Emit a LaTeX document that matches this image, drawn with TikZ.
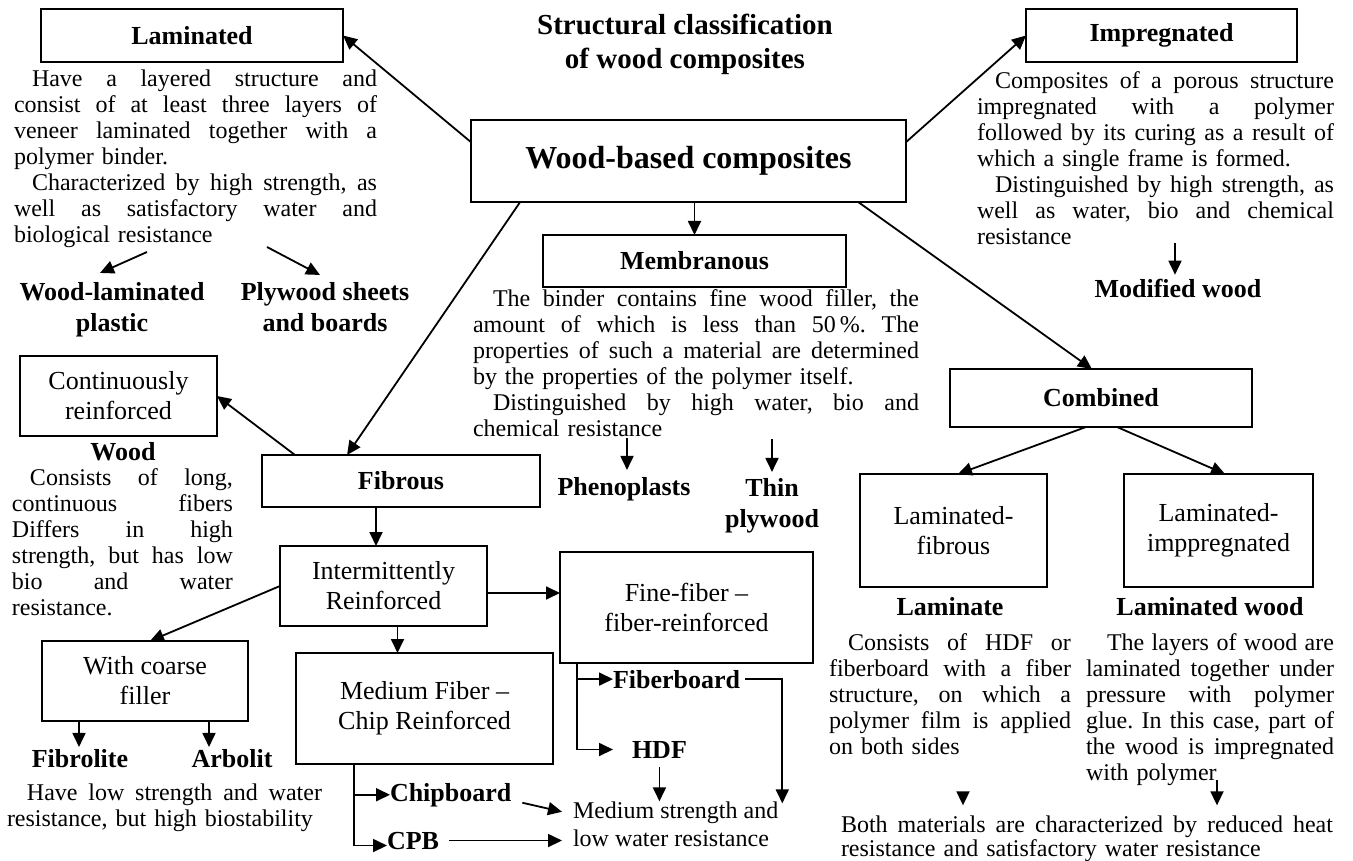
\documentclass[tikz,border=0pt]{standalone}
\usepackage{fontspec}
\setmainfont{Liberation Serif}
\usetikzlibrary{arrows.meta,calc}
\frenchspacing
\newcommand\jl[1]{\makebox[\hsize][s]{\spaceskip=0pt\xspaceskip=0pt #1}}
\begin{document}
\begin{tikzpicture}[x=1pt,y=-1pt,
  box/.style={draw, line width=1.8pt, inner sep=0pt, outer sep=0pt, align=center},
  bx/.style={font=\bfseries\fontsize{26}{30}\selectfont},
  rx/.style={font=\fontsize{26}{30}\selectfont},
  lbl/.style={inner sep=0pt, outer sep=0pt, align=center, font=\bfseries\fontsize{26}{31}\selectfont},
  txt/.style={inner sep=0pt, outer sep=0pt, align=left, anchor=base west, font=\fontsize{24}{26}\selectfont},
  arr/.style={line width=1.8pt, -{Triangle[length=14pt,width=13pt]}}
]
\useasboundingbox (0,0) rectangle (1353,861);

% title (base = last line)
\node[lbl, anchor=base, font=\bfseries\fontsize{29}{34}\selectfont] (title) at (685,69) {Structural classification\\of wood composites};

% boxes
\node[box, bx, minimum width=302pt, minimum height=53pt] (lam) at (192,35.5) {Laminated};
\node[box, bx, minimum width=271pt, minimum height=53pt] (imp) at (1161.5,35.5) {Impregnated};
\node[box, font=\bfseries\fontsize{32}{36}\selectfont, minimum width=435pt, minimum height=82pt] (wbc) at (688.5,161) {Wood-based composites};
\node[box, bx, minimum width=303pt, minimum height=52pt] (mem) at (694.5,261) {Membranous};
\node[box, bx, minimum width=302pt, minimum height=58pt] (comb) at (1101,398) {Combined};
\node[box, rx, minimum width=187pt, minimum height=113pt] (lf) at (953.5,530.5) {Laminated-\\fibrous};
\node[box, rx, minimum width=189pt, minimum height=113pt] (li) at (1218.5,530.5) {Laminated-\\imppregnated};
\node[box, bx, minimum width=278pt, minimum height=52pt] (fib) at (401,481) {Fibrous};
\node[box, rx, minimum width=197pt, minimum height=80pt] (cont) at (118.5,396) {Continuously\\reinforced};
\node[box, rx, minimum width=207pt, minimum height=80pt] (inter) at (383.5,586) {Intermittently\\Reinforced};
\node[box, rx, minimum width=206pt, minimum height=80pt] (coarse) at (145,681) {With coarse\\filler};
\node[box, rx, minimum width=257pt, minimum height=111pt] (med) at (424.5,708.5) {Medium Fiber –\\Chip Reinforced};
\node[box, rx, minimum width=253pt, minimum height=111pt] (fine) at (686.5,607.5) {Fine-fiber –\\fiber-reinforced};

% text blocks (base = first line)
\node[txt, text width=363pt] (lamT) at (14,87) {\jl{\hspace*{18pt}Have a layered structure and}\\
\jl{consist of at least three layers of}\\
\jl{veneer laminated together with a}\\
polymer binder.\\
\jl{\hspace*{18pt}Characterized by high strength, as}\\
\jl{well as satisfactory water and}\\
biological resistance};

\node[txt, text width=357pt] (impT) at (977,89) {\jl{\hspace*{18pt}Composites of a porous structure}\\
\jl{impregnated with a polymer}\\
\jl{followed by its curing as a result of}\\
which a single frame is formed.\\
\jl{\hspace*{18pt}Distinguished by high strength, as}\\
\jl{well as water, bio and chemical}\\
resistance};

\node[txt, text width=446pt] (memT) at (473,307) {\jl{\hspace*{20pt}The binder contains fine wood filler, the}\\
\jl{amount of which is less than 50\,\%. The}\\
\jl{properties of such a material are determined}\\
by the properties of the polymer itself.\\
\jl{\hspace*{20pt}Distinguished by high water, bio and}\\
chemical resistance};

\node[txt, text width=221pt] (woodT) at (12,485) {\jl{\hspace*{18pt}Consists of long,}\\
\jl{continuous fibers}\\
\jl{Differs in high}\\
\jl{strength, but has low}\\
\jl{bio and water}\\
resistance.};

\node[txt, text width=315pt] (lowT) at (7,800) {\jl{\hspace*{20pt}Have low strength and water}\\
resistance, but high biostability};

\node[txt, text width=242pt] (lmtT) at (829,650) {\jl{\hspace*{19pt}Consists of HDF or}\\
\jl{fiberboard with a fiber}\\
\jl{structure, on which a}\\
\jl{polymer film is applied}\\
on both sides};

\node[txt, text width=248pt] (lwdT) at (1086,650) {\jl{\hspace*{21pt}The layers of wood are}\\
\jl{laminated together under}\\
\jl{pressure with polymer}\\
\jl{glue. In this case, part of}\\
\jl{the wood is impregnated}\\
with polymer};

\node[txt, text width=492pt, font=\fontsize{24}{24}\selectfont] (both) at (841,832) {\jl{Both materials are characterized by reduced heat}\\
resistance and satisfactory water resistance};

% (base = last line)
\node[txt, font=\fontsize{24}{28}\selectfont] (ms) at (573,846) {Medium strength and\\low water resistance};

% bold labels (base = last line)
\node[lbl, anchor=base] (wlp) at (112,331) {Wood-laminated\\plastic};
\node[lbl, anchor=base] (pw) at (325,331) {Plywood sheets\\and boards};
\node[lbl, anchor=base] (mw) at (1178,298) {Modified wood};
\node[lbl, anchor=base] (wd) at (123,460) {Wood};
\node[lbl, anchor=base] (ph) at (624,495) {Phenoplasts};
\node[lbl, anchor=base] (thin) at (772,527) {Thin\\plywood};
\node[lbl, anchor=base] (lmt) at (950,615) {Laminate};
\node[lbl, anchor=base] (lwd) at (1210,615) {Laminated wood};
\node[lbl, anchor=base] (fl) at (80,767) {Fibrolite};
\node[lbl, anchor=base] (ab) at (232,767) {Arbolit};
\node[lbl, anchor=base west] (chip) at (390,801) {Chipboard};
\node[lbl, anchor=base west] (cpb) at (387,849) {CPB};
\node[lbl, anchor=base west] (fbd) at (613,688) {Fiberboard};
\node[lbl, anchor=base west] (hdf) at (632,758) {HDF};

% connectors from the central box
\draw[arr] ($(wbc.north west)!0.27!(wbc.south west)$) -- (lam.east);
\draw[arr] ($(wbc.north east)!0.27!(wbc.south east)$) -- (imp.west);
\draw[arr] (wbc.south -| mem.north) -- (mem.north);
\draw[arr] ($(wbc.south west)!0.113!(wbc.south east)$) -- ($(fib.north west)!0.306!(fib.north east)$);
\draw[arr] ($(wbc.south west)!0.89!(wbc.south east)$) -- ($(comb.north west)!0.47!(comb.north east)$);

% laminated branch
\coordinate (s1) at (147,252);
\draw[arr] (s1) -- ([xshift=-12pt,yshift=9pt]wlp.north);
\coordinate (s2) at (267,247);
\draw[arr] (s2) -- ([xshift=-5pt,yshift=7pt]pw.north);

% impregnated branch
\coordinate (s3) at (1175,243);
\draw[arr, shorten >=5pt] (s3) -- (s3 |- mw.north);

% membranous branch
\coordinate (s4) at (627,438);
\draw[arr, shorten >=7pt] (s4) -- (s4 |- ph.north);
\coordinate (s5) at (772,439);
\draw[arr, shorten >=6pt] (s5) -- (s5 |- thin.north);

% combined branch
\draw[arr] ([xshift=-15pt]comb.south) -- ([xshift=4.5pt]lf.north);
\draw[arr] ([xshift=16pt]comb.south) -- ([xshift=6.5pt]li.north);
\coordinate (s6) at (963,792);
\draw[arr, shorten >=10pt] (s6) -- (s6 |- both.north);
\coordinate (s7) at (1217,780);
\draw[arr, shorten >=10pt] (s7) -- (s7 |- both.north);

% fibrous branch
\draw[arr] ([xshift=33pt]fib.north west) -- (cont.east);
\coordinate (fi) at ([xshift=-25pt]fib.south);
\draw[arr] (fi) -- (fi |- inter.north);
\draw[arr] (inter.west) -- ([xshift=5pt]coarse.north);
\coordinate (ie) at ([yshift=-7pt]inter.east);
\draw[arr] (ie) -- (ie -| fine.west);
\coordinate (im) at ([xshift=14pt]inter.south);
\draw[arr] (im) -- (im |- med.north);
\coordinate (ca) at ([xshift=-66pt]coarse.south);
\draw[arr, shorten >=2pt] (ca) -- (ca |- fl.north);
\coordinate (cb) at ([xshift=64pt]coarse.south);
\draw[arr, shorten >=2pt] (cb) -- (cb |- ab.north);

% medium fiber branch
\coordinate (mb) at ([xshift=58pt]med.south west);
\draw[arr] (mb) |- (chip.west);
\draw[arr] (mb) |- ([yshift=-5pt]cpb.west);
\draw[arr, shorten <=10pt, shorten >=11pt] (cpb.east) -- (cpb.east -| ms.west);
\draw[arr] ([xshift=11pt,yshift=-8pt]chip.east) -- ([xshift=-11pt,yshift=12pt]ms.west);

% fine fiber branch
\coordinate (fb0) at ([xshift=17pt]fine.south west);
\draw[arr] (fb0) |- (fbd.west);
\draw[arr] (fb0) |- ([xshift=-19pt]hdf.west);
\draw[arr, shorten <=5pt] (fbd.east) -| ([xshift=4pt,yshift=-2pt]ms.north east);
\draw[arr, shorten <=9pt] (hdf.south) -- (hdf.south |- ms.north);
\end{tikzpicture}
\end{document}
